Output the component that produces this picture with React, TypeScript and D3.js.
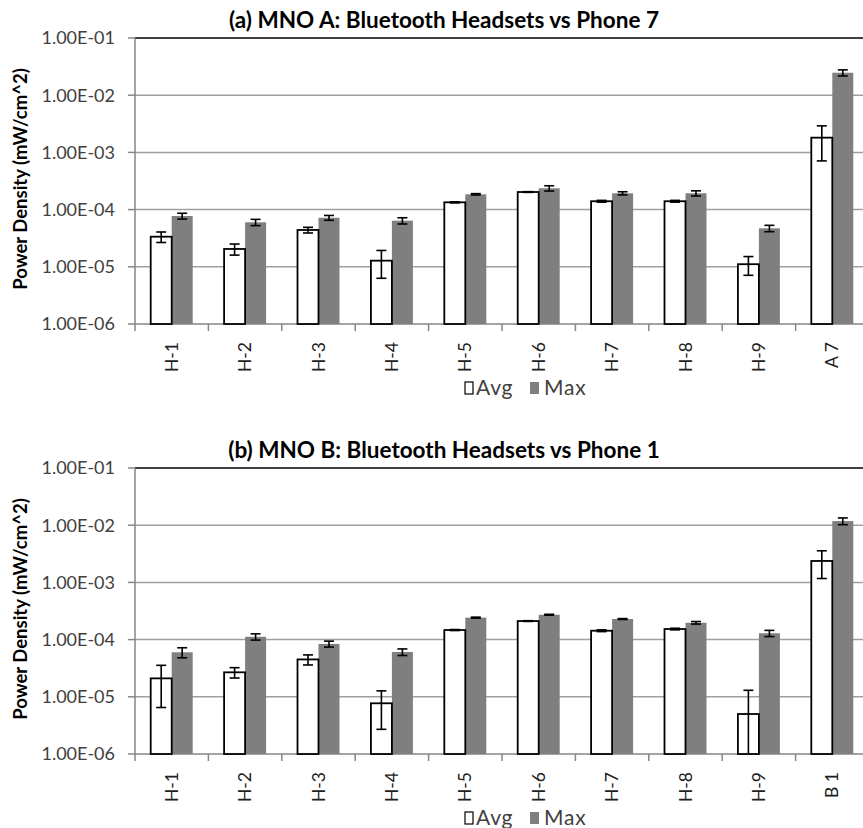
import React from 'react';
import * as d3 from 'd3';

const categoriesA = ['H-1', 'H-2', 'H-3', 'H-4', 'H-5', 'H-6', 'H-7', 'H-8', 'H-9', 'A 7'];
const avgA = [3.36e-5, 2.05e-5, 4.4e-5, 1.28e-5, 1.34e-4, 2.03e-4, 1.4e-4, 1.4e-4, 1.11e-5, 1.81e-3];
const avgErrA = [7e-6, 4.5e-6, 5e-6, 6.5e-6, 3e-6, 3e-6, 5e-6, 5e-6, 4e-6, 1.1e-3];
const maxA = [7.73e-5, 6.0e-5, 7.2e-5, 6.4e-5, 1.85e-4, 2.36e-4, 1.93e-4, 1.93e-4, 4.71e-5, 2.47e-2];
const maxErrA = [9e-6, 7.5e-6, 7e-6, 8e-6, 5e-6, 2.5e-5, 1.2e-5, 2e-5, 6e-6, 3e-3];

const categoriesB = ['H-1', 'H-2', 'H-3', 'H-4', 'H-5', 'H-6', 'H-7', 'H-8', 'H-9', 'B 1'];
const avgB = [2.1e-5, 2.68e-5, 4.5e-5, 7.7e-6, 1.47e-4, 2.11e-4, 1.43e-4, 1.53e-4, 5.0e-6, 2.37e-3];
const avgErrB = [1.45e-5, 5.5e-6, 9e-6, 5e-6, 3e-6, 3e-6, 5e-6, 5e-6, 8e-6, 1.2e-3];
const maxB = [6.0e-5, 1.12e-4, 8.4e-5, 6.07e-5, 2.42e-4, 2.72e-4, 2.29e-4, 1.97e-4, 1.29e-4, 1.18e-2];
const maxErrB = [1.2e-5, 1.4e-5, 1e-5, 8e-6, 5e-6, 5e-6, 4e-6, 1e-5, 1.6e-5, 1.6e-3];

const yTicks = [1e-6, 1e-5, 1e-4, 1e-3, 1e-2, 1e-1];
const seriesNames = ['Avg', 'Max'];
const titleA = '(a) MNO A: Bluetooth Headsets vs Phone 7';
const titleB = '(b) MNO B: Bluetooth Headsets vs Phone 1';
const yTitle = 'Power Density (mW/cm^2)';

const FONT = 'Lato, "Open Sans", sans-serif';
const W = 863;
const H = 828;

function fmt(v: number): string {
  const e = Math.round(Math.log10(v));
  const sign = e < 0 ? '-' : '+';
  return `1.00E${sign}${String(Math.abs(e)).padStart(2, '0')}`;
}

type PanelProps = {
  offsetY: number;
  title: string;
  categories: string[];
  avg: number[];
  avgErr: number[];
  max: number[];
  maxErr: number[];
};

function Panel({ offsetY, title, categories, avg, avgErr, max, maxErr }: PanelProps) {
  const top = 38;
  const bottom = 324;
  const left = 135;
  const right = 869;
  const y = d3.scaleLog().domain([1e-6, 1e-1]).range([bottom, top]);
  const x0 = d3.scaleBand<string>().domain(categories).range([left, right]).paddingInner(0).paddingOuter(0);
  const x1 = d3.scaleBand<string>().domain(seriesNames).range([0, x0.bandwidth()]).paddingInner(0).paddingOuter(0.748);
  const capW = 5;

  const errBar = (cx: number, v: number, err: number, key: string) => {
    const hi = v + err;
    const lo = v - err;
    const yHi = y(hi);
    const clipped = lo <= 1e-6;
    const yLo = clipped ? bottom : y(lo);
    return (
      <g key={key} stroke="#000" strokeWidth={1.6}>
        <line x1={cx} x2={cx} y1={yHi} y2={yLo} />
        <line x1={cx - capW} x2={cx + capW} y1={yHi} y2={yHi} />
        {!clipped && <line x1={cx - capW} x2={cx + capW} y1={yLo} y2={yLo} />}
      </g>
    );
  };

  return (
    <g transform={`translate(0,${offsetY})`}>
      {/* title */}
      <text x={444} y={28} textAnchor="middle" fontFamily={FONT} fontWeight="bold" fontSize={22.5} fill="#000">
        {title}
      </text>
      {/* y axis title */}
      <text
        transform={`translate(27,${(top + bottom) / 2 - 2}) rotate(-90)`}
        textAnchor="middle"
        fontFamily={FONT}
        fontWeight="bold"
        fontSize={18.5}
        fill="#000"
      >
        {yTitle}
      </text>
      {/* gridlines */}
      {yTicks.slice(1, -1).map((t) => (
        <line key={`g${t}`} x1={left} x2={right} y1={y(t)} y2={y(t)} stroke="#a0a0a0" strokeWidth={1.5} />
      ))}
      <line x1={left} x2={right} y1={y(1e-1)} y2={y(1e-1)} stroke="#404040" strokeWidth={2} />
      {/* y axis */}
      <line x1={left} x2={left} y1={top} y2={bottom + 7} stroke="#868686" strokeWidth={1.5} />
      {yTicks.map((t) => (
        <g key={`t${t}`}>
          <line x1={left - 7} x2={left} y1={y(t)} y2={y(t)} stroke="#868686" strokeWidth={1.5} />
          <text x={115} y={y(t)} dy="0.35em" textAnchor="end" fontFamily={FONT} fontSize={18} fill="#404040">
            {fmt(t)}
          </text>
        </g>
      ))}
      {/* x axis */}
      <line x1={left} x2={right} y1={bottom} y2={bottom} stroke="#868686" strokeWidth={1.5} />
      {categories.map((c) => (
        <line
          key={`xt${c}`}
          x1={(x0(c) as number) + x0.bandwidth()}
          x2={(x0(c) as number) + x0.bandwidth()}
          y1={bottom}
          y2={bottom + 7}
          stroke="#868686"
          strokeWidth={1.5}
        />
      ))}
      {categories.map((c) => {
        const cx = (x0(c) as number) + x0.bandwidth() / 2;
        return (
          <text
            key={`xl${c}`}
            transform={`translate(${cx},342) rotate(-90)`}
            textAnchor="end"
            dy="0.35em"
            fontFamily={FONT}
            fontSize={17.5}
            fill="#202020"
          >
            {c}
          </text>
        );
      })}
      {/* bars */}
      {categories.map((c, i) => {
        const bx = x0(c) as number;
        const ax = bx + (x1('Avg') as number);
        const mx = bx + (x1('Max') as number);
        const bw = x1.bandwidth();
        return (
          <g key={`b${c}`}>
            <rect x={mx} y={y(max[i])} width={bw} height={bottom - y(max[i])} fill="#7f7f7f" />
            <rect x={ax} y={y(avg[i])} width={bw} height={bottom - y(avg[i])} fill="#fff" stroke="#000" strokeWidth={1.8} />
            {errBar(ax + bw / 2, avg[i], avgErr[i], `ea${c}`)}
            {errBar(mx + bw / 2, max[i], maxErr[i], `em${c}`)}
          </g>
        );
      })}
      {/* legend */}
      <g fontFamily={FONT} fontSize={21} fill="#404040" letterSpacing={0.8}>
        <rect x={465} y={382} width={8} height={12} fill="#fff" stroke="#000" strokeWidth={1.2} />
        <text x={476} y={388} dy="0.35em">{seriesNames[0]}</text>
        <rect x={530} y={382} width={9} height={12} fill="#7f7f7f" />
        <text x={544} y={388} dy="0.35em">{seriesNames[1]}</text>
      </g>
    </g>
  );
}

export default function App() {
  return (
    <svg width={W} height={H} style={{ position: 'absolute', left: 0, top: 0, background: '#fff' }}>
      <rect x={0} y={0} width={W} height={H} fill="#fff" />
      <Panel offsetY={0} title={titleA} categories={categoriesA} avg={avgA} avgErr={avgErrA} max={maxA} maxErr={maxErrA} />
      <Panel offsetY={430} title={titleB} categories={categoriesB} avg={avgB} avgErr={avgErrB} max={maxB} maxErr={maxErrB} />
    </svg>
  );
}
